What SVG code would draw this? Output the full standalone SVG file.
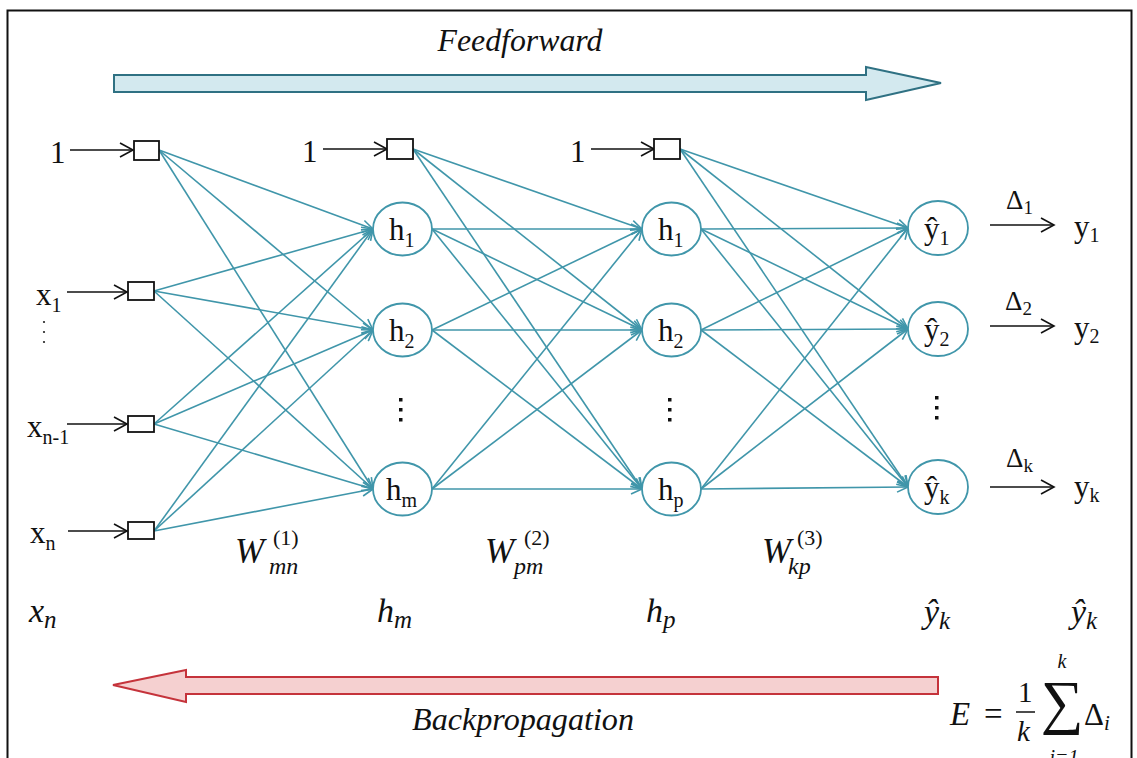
<svg xmlns="http://www.w3.org/2000/svg" width="1137" height="758" viewBox="0 0 1137 758">
<defs>
<style>
.t{font-family:"Liberation Serif","Times New Roman",serif;fill:#111;}
.m{font-family:"Liberation Serif","Times New Roman",serif;font-style:italic;fill:#111;}
.c{stroke:#4096aa;stroke-width:1.6;fill:none;marker-end:url(#ta);}
.k{stroke:#111;stroke-width:1.6;fill:none;marker-end:url(#ka);}
.node{fill:#fff;stroke:#4096aa;stroke-width:1.8;}
.box{fill:#fff;stroke:#111;stroke-width:1.8;}
</style>
<marker id="ta" markerUnits="userSpaceOnUse" markerWidth="14" markerHeight="12" refX="12" refY="6" orient="auto">
<path d="M1,1 L12,6 L1,11" fill="none" stroke="#4096aa" stroke-width="1.6"/>
</marker>
<marker id="ka" markerUnits="userSpaceOnUse" markerWidth="16" markerHeight="16" refX="14" refY="8" orient="auto">
<path d="M1,1 L14,8 L1,15" fill="none" stroke="#111" stroke-width="1.6"/>
</marker>
</defs>
<rect x="0" y="0" width="1137" height="758" fill="#fff"/>
<rect x="7.5" y="10.5" width="1124" height="780" fill="none" stroke="#111" stroke-width="2"/>

<g id="feedforward">
<path d="M114,75 L866,75 L866,67 L941,83 L866,100 L866,92 L114,92 Z" fill="#d3e9ef" stroke="#2f7183" stroke-width="2"/>
<text class="m" x="520" y="51" font-size="31" text-anchor="middle" textLength="165" lengthAdjust="spacingAndGlyphs">Feedforward</text>
</g>
<g id="backpropagation">
<path d="M938,677 L186,677 L186,670 L113,685 L186,702 L186,694 L938,694 Z" fill="#f5d0d0" stroke="#c5333b" stroke-width="2"/>
<text class="m" x="523" y="730" font-size="31" text-anchor="middle" textLength="222" lengthAdjust="spacingAndGlyphs">Backpropagation</text>
</g>

<g id="connectors">
<line class="k" x1="70" y1="150" x2="133" y2="150"/>
<line class="k" x1="67" y1="292" x2="127" y2="292"/>
<line class="k" x1="67" y1="424" x2="127" y2="424"/>
<line class="k" x1="68" y1="531" x2="127" y2="531"/>
<line class="k" x1="323" y1="149" x2="387" y2="149"/>
<line class="k" x1="591" y1="149" x2="654" y2="149"/>
<line class="k" x1="990" y1="225" x2="1054" y2="225"/>
<line class="k" x1="990" y1="326" x2="1054" y2="326"/>
<line class="k" x1="990" y1="487" x2="1054" y2="487"/>
<line class="c" x1="159" y1="150" x2="373" y2="229"/>
<line class="c" x1="159" y1="150" x2="373" y2="330"/>
<line class="c" x1="159" y1="150" x2="373" y2="489"/>
<line class="c" x1="154" y1="291" x2="373" y2="229"/>
<line class="c" x1="154" y1="291" x2="373" y2="330"/>
<line class="c" x1="154" y1="291" x2="373" y2="489"/>
<line class="c" x1="154" y1="424" x2="373" y2="229"/>
<line class="c" x1="154" y1="424" x2="373" y2="330"/>
<line class="c" x1="154" y1="424" x2="373" y2="489"/>
<line class="c" x1="154" y1="531" x2="373" y2="229"/>
<line class="c" x1="154" y1="531" x2="373" y2="330"/>
<line class="c" x1="154" y1="531" x2="373" y2="489"/>
<line class="c" x1="413" y1="149" x2="642" y2="229"/>
<line class="c" x1="413" y1="149" x2="642" y2="330"/>
<line class="c" x1="413" y1="149" x2="642" y2="489"/>
<line class="c" x1="432" y1="229" x2="642" y2="229"/>
<line class="c" x1="432" y1="229" x2="642" y2="330"/>
<line class="c" x1="432" y1="229" x2="642" y2="489"/>
<line class="c" x1="432" y1="330" x2="642" y2="229"/>
<line class="c" x1="432" y1="330" x2="642" y2="330"/>
<line class="c" x1="432" y1="330" x2="642" y2="489"/>
<line class="c" x1="432" y1="489" x2="642" y2="229"/>
<line class="c" x1="432" y1="489" x2="642" y2="330"/>
<line class="c" x1="432" y1="489" x2="642" y2="489"/>
<line class="c" x1="680" y1="149" x2="908" y2="228"/>
<line class="c" x1="680" y1="149" x2="908" y2="329"/>
<line class="c" x1="680" y1="149" x2="908" y2="487"/>
<line class="c" x1="701" y1="229" x2="908" y2="228"/>
<line class="c" x1="701" y1="229" x2="908" y2="329"/>
<line class="c" x1="701" y1="229" x2="908" y2="487"/>
<line class="c" x1="701" y1="330" x2="908" y2="228"/>
<line class="c" x1="701" y1="330" x2="908" y2="329"/>
<line class="c" x1="701" y1="330" x2="908" y2="487"/>
<line class="c" x1="701" y1="489" x2="908" y2="228"/>
<line class="c" x1="701" y1="489" x2="908" y2="329"/>
<line class="c" x1="701" y1="489" x2="908" y2="487"/>
</g>

<g id="bias0"><rect class="box" x="134" y="141" width="25" height="19"/><text class="t" x="50" y="163" font-size="31">1</text></g>
<g id="x1"><rect class="box" x="128" y="282" width="26" height="18"/><text class="t" x="36" y="305" font-size="31">x<tspan font-size="20" dy="7">1</tspan></text>
<circle cx="44" cy="322" r="1.1" fill="#222"/><circle cx="44" cy="332" r="1.1" fill="#222"/><circle cx="44" cy="342" r="1.1" fill="#222"/></g>
<g id="xn-1"><rect class="box" x="128" y="416" width="26" height="16"/><text class="t" x="27" y="437" font-size="31">x<tspan font-size="20" dy="7">n-1</tspan></text></g>
<g id="xn"><rect class="box" x="128" y="522" width="26" height="17"/><text class="t" x="30" y="543" font-size="31">x<tspan font-size="20" dy="7">n</tspan></text></g>

<g id="bias1"><rect class="box" x="387" y="139" width="26" height="20"/><text class="t" x="302" y="162" font-size="31">1</text></g>
<g id="h1a"><ellipse class="node" cx="402.5" cy="229" rx="29.5" ry="26.5"/><text class="t" x="389" y="240" font-size="31">h<tspan font-size="20" dy="7">1</tspan></text></g>
<g id="h2a"><ellipse class="node" cx="402.5" cy="330" rx="29.5" ry="26.5"/><text class="t" x="389" y="341" font-size="31">h<tspan font-size="20" dy="7">2</tspan></text></g>
<g id="hm"><ellipse class="node" cx="402.5" cy="489" rx="29.5" ry="26.5"/><text class="t" x="386" y="500" font-size="31">h<tspan font-size="20" dy="7">m</tspan></text></g>
<g id="dots1"><rect x="399" y="398" width="3.5" height="3.5" fill="#111"/><rect x="399" y="408" width="3.5" height="3.5" fill="#111"/><rect x="399" y="418" width="3.5" height="3.5" fill="#111"/></g>

<g id="bias2"><rect class="box" x="654" y="139" width="26" height="20"/><text class="t" x="570" y="162" font-size="31">1</text></g>
<g id="h1b"><ellipse class="node" cx="671.5" cy="229" rx="29.5" ry="26.5"/><text class="t" x="658" y="240" font-size="31">h<tspan font-size="20" dy="7">1</tspan></text></g>
<g id="h2b"><ellipse class="node" cx="671.5" cy="330" rx="29.5" ry="26.5"/><text class="t" x="658" y="341" font-size="31">h<tspan font-size="20" dy="7">2</tspan></text></g>
<g id="hp"><ellipse class="node" cx="671.5" cy="489" rx="29.5" ry="26.5"/><text class="t" x="658" y="500" font-size="31">h<tspan font-size="20" dy="7">p</tspan></text></g>
<g id="dots2"><rect x="668" y="398" width="3.5" height="3.5" fill="#111"/><rect x="668" y="408" width="3.5" height="3.5" fill="#111"/><rect x="668" y="418" width="3.5" height="3.5" fill="#111"/></g>

<g id="y1hat"><ellipse class="node" cx="938" cy="228" rx="30" ry="27"/><text class="t" x="924" y="239" font-size="31">ŷ<tspan font-size="20" dy="6">1</tspan></text></g>
<g id="y2hat"><ellipse class="node" cx="938" cy="329" rx="30" ry="27"/><text class="t" x="924" y="340" font-size="31">ŷ<tspan font-size="20" dy="6">2</tspan></text></g>
<g id="ykhat"><ellipse class="node" cx="938" cy="487" rx="30" ry="27"/><text class="t" x="924" y="498" font-size="31">ŷ<tspan font-size="20" dy="6">k</tspan></text></g>
<g id="dots3"><rect x="935" y="396" width="3.5" height="3.5" fill="#111"/><rect x="935" y="406" width="3.5" height="3.5" fill="#111"/><rect x="935" y="416" width="3.5" height="3.5" fill="#111"/></g>

<g id="out1"><text class="t" x="1006" y="209" font-size="27">Δ<tspan font-size="19" dy="5">1</tspan></text><text class="t" x="1074" y="237" font-size="31">y<tspan font-size="20" dy="5">1</tspan></text></g>
<g id="out2"><text class="t" x="1005" y="310" font-size="27">Δ<tspan font-size="19" dy="5">2</tspan></text><text class="t" x="1074" y="338" font-size="31">y<tspan font-size="20" dy="5">2</tspan></text></g>
<g id="outk"><text class="t" x="1006" y="467" font-size="27">Δ<tspan font-size="19" dy="5">k</tspan></text><text class="t" x="1074" y="497" font-size="31">y<tspan font-size="20" dy="5">k</tspan></text></g>

<g id="weights">
<text class="m" x="235" y="563" font-size="35">W</text><text class="t" x="273" y="545" font-size="22">(1)</text><text class="m" x="269" y="574" font-size="24">mn</text>
<text class="m" x="485" y="563" font-size="35">W</text><text class="t" x="524" y="545" font-size="22">(2)</text><text class="m" x="514" y="574" font-size="24">pm</text>
<text class="m" x="762" y="563" font-size="35">W</text><text class="t" x="797" y="545" font-size="22">(3)</text><text class="m" x="788" y="574" font-size="24">kp</text>
</g>
<g id="rowlabels">
<text class="m" x="29" y="622" font-size="34">x<tspan font-size="25" dy="6">n</tspan></text>
<text class="m" x="377" y="622" font-size="34">h<tspan font-size="25" dy="6">m</tspan></text>
<text class="m" x="646" y="622" font-size="34">h<tspan font-size="25" dy="6">p</tspan></text>
<text class="m" x="924" y="623" font-size="34">ŷ<tspan font-size="25" dy="6">k</tspan></text>
<text class="m" x="1071" y="623" font-size="34">ŷ<tspan font-size="25" dy="6">k</tspan></text>
</g>
<g id="error">
<text class="m" x="950" y="725" font-size="33">E</text>
<text class="t" x="984" y="725" font-size="33">=</text>
<text class="t" x="1018" y="702" font-size="29">1</text>
<line x1="1016" y1="712" x2="1035" y2="712" stroke="#111" stroke-width="1.5"/>
<text class="m" x="1017" y="741" font-size="29">k</text>
<text class="t" x="1062" y="722" font-size="60" text-anchor="middle">∑</text>
<text class="m" x="1062" y="668" font-size="20" text-anchor="middle">k</text>
<text class="m" x="1064" y="764" font-size="20" text-anchor="middle">i=1</text>
<text class="t" x="1084" y="725" font-size="31">Δ<tspan class="m" font-size="21" dy="5">i</tspan></text>
</g>
</svg>
